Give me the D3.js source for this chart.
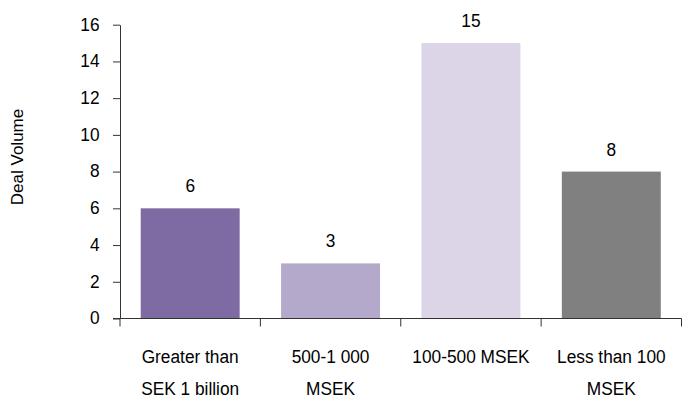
<!DOCTYPE html>
<html>
<head>
<meta charset="utf-8">
<script src="https://cdn.jsdelivr.net/npm/d3@7"></script>
<style>
  html, body { margin: 0; padding: 0; background: #fff; }
  svg { display: block; }
  text { font-family: "Liberation Sans", Arial, sans-serif; fill: #000; }
</style>
</head>
<body>
<svg id="chart" width="682" height="398"></svg>
<script>
// Deal volume by transaction size
const categories = [
  ["Greater than", "SEK 1 billion"],
  ["500-1 000", "MSEK"],
  ["100-500 MSEK"],
  ["Less than 100", "MSEK"]
];
const values = [6, 3, 15, 8];
const barColors = ["#7f6ba3", "#b4a9cb", "#dbd5e7", "#808080"];
const yTicks = [0, 2, 4, 6, 8, 10, 12, 14, 16];
const yTitle = "Deal Volume";

const svg = d3.select("#chart");
const plot = { left: 120, right: 681.5, top: 24.7, bottom: 318.5 };
const FONT = 19;      // label size
const NARROW = 0.91;  // horizontal squeeze for a condensed look

const keys = categories.map((c, i) => i);
const x = d3.scaleBand().domain(keys).range([plot.left, plot.right])
  .paddingInner(0.295).paddingOuter(0.1475);
const xGrid = d3.scaleBand().domain(keys).range([plot.left, plot.right]).padding(0);
const y = d3.scaleLinear().domain([0, 16]).range([plot.bottom, plot.top]);

// condensed text placed at (px, py)
function label(parent, px, py, str, anchor = "middle", size = FONT) {
  return parent.append("text")
    .attr("transform", `translate(${px},${py}) scale(${NARROW},1)`)
    .attr("text-anchor", anchor)
    .attr("font-size", size)
    .text(str);
}

// bars
svg.append("g").selectAll("rect").data(values).join("rect")
  .attr("x", (d, i) => x(i))
  .attr("y", d => y(d))
  .attr("width", x.bandwidth())
  .attr("height", d => y(0) - y(d))
  .attr("fill", (d, i) => barColors[i]);

// value labels
const valG = svg.append("g");
values.forEach((v, i) => label(valG, x(i) + x.bandwidth() / 2, y(v) - 16, v));

// y axis
const yAxis = svg.append("g")
  .attr("transform", `translate(${plot.left},0)`)
  .call(d3.axisLeft(y).tickValues(yTicks).tickSize(7).tickSizeOuter(0));
yAxis.selectAll("line, path").attr("stroke", "#333");
yAxis.selectAll("text")
  .attr("font-size", FONT)
  .attr("font-family", "Liberation Sans, Arial, sans-serif")
  .attr("fill", "#000")
  .attr("x", -20.5 / NARROW)
  .attr("dy", "0.28em")
  .attr("transform", `scale(${NARROW},1)`);

// x axis with ticks at category boundaries
const xAxisG = svg.append("g").attr("transform", `translate(0,${plot.bottom})`);
xAxisG.append("line")
  .attr("x1", plot.left - 7).attr("x2", plot.right)
  .attr("y1", 0).attr("y2", 0)
  .attr("stroke", "#333");
const bounds = keys.map(i => xGrid(i)).concat([plot.right]);
xAxisG.selectAll("line.tick").data(bounds).join("line")
  .attr("class", "tick")
  .attr("x1", d => d).attr("x2", d => d)
  .attr("y1", 0).attr("y2", 8)
  .attr("stroke", "#333");

// category labels
const catG = svg.append("g");
categories.forEach((lines, i) => {
  const cx = x(i) + x.bandwidth() / 2;
  lines.forEach((ln, j) => label(catG, cx, 363 + j * 31.5, ln));
});

// y axis title
svg.append("text")
  .attr("transform", `translate(23,157) rotate(-90)`)
  .attr("text-anchor", "middle")
  .attr("font-size", 17)
  .text(yTitle);
</script>
</body>
</html>
